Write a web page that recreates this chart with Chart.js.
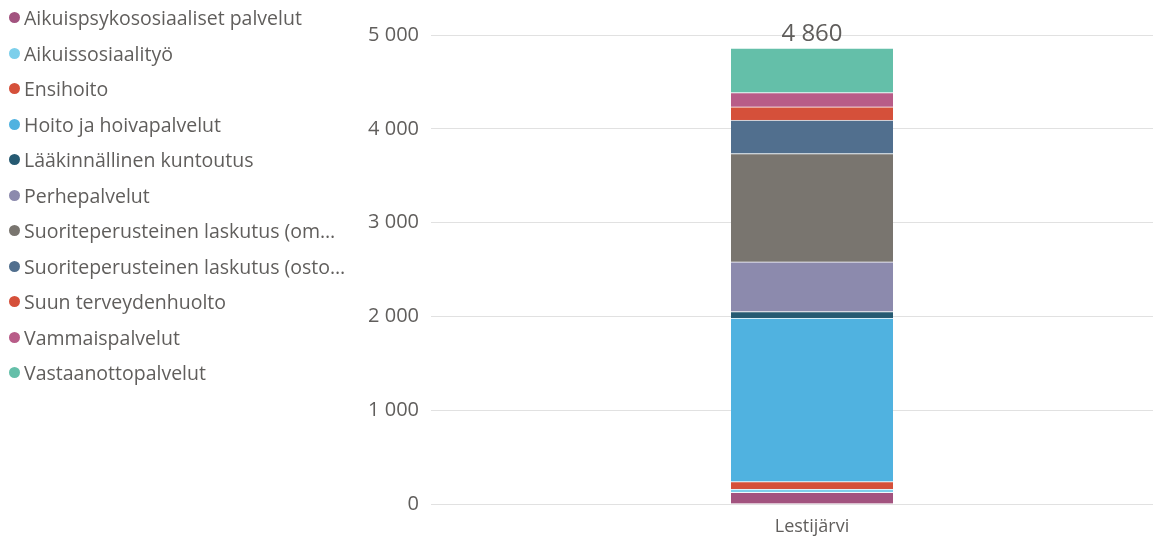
<!DOCTYPE html>
<html lang="fi">
<head>
<meta charset="utf-8">
<script src="https://cdn.jsdelivr.net/npm/chart.js@4"></script>
<style>
  html, body { margin: 0; padding: 0; background: #fff; overflow: hidden; }
  #wrap { position: relative; width: 1193px; height: 537px; }
  #legend { position: absolute; left: 0; top: 0; width: 350px; font-family: "Open Sans", sans-serif; font-size: 19.5px; color: #605E5C; }
  #legend div { height: 35.5px; line-height: 35.5px; display: flex; align-items: center; }
  #legend i { display: inline-block; width: 11px; height: 11px; border-radius: 50%; margin: 0 4px 0 9px; flex: none; }
  #legend span { white-space: nowrap; overflow: hidden; text-overflow: ellipsis; width: 322px; }
</style>
</head>
<body>
<div id="wrap">
  <canvas id="chart" width="1193" height="537"></canvas>
  <div id="legend"></div>
</div>
<script>
"use strict";

// Kategoria ja sarjat
const categories = ["Lestijärvi"];
const seriesNames = [
  "Aikuispsykososiaaliset palvelut",
  "Aikuissosiaalityö",
  "Ensihoito",
  "Hoito ja hoivapalvelut",
  "Lääkinnällinen kuntoutus",
  "Perhepalvelut",
  "Suoriteperusteinen laskutus (omat palvelut)",
  "Suoriteperusteinen laskutus (ostopalvelut)",
  "Suun terveydenhuolto",
  "Vammaispalvelut",
  "Vastaanottopalvelut"
];
const seriesValues = [125, 35, 80, 1742, 70, 530, 1155, 355, 142, 153, 473];
const seriesColors = ["#A2537F", "#7CCFEB", "#D5503A", "#50B2E0", "#265A72", "#8C8AAD", "#79756F", "#516F8E", "#D5503A", "#B85C88", "#64BFA9"];
const yTicks = [0, 1000, 2000, 3000, 4000, 5000];

const textColor = "#605E5C";
const fontFamily = "'Open Sans', sans-serif";

// Legenda HTML:nä
const legend = document.getElementById("legend");
seriesNames.forEach((name, i) => {
  const row = document.createElement("div");
  row.innerHTML = '<i style="background:' + seriesColors[i] + '"></i><span>' + name + '</span>';
  legend.appendChild(row);
});

// Summa pinon päälle
const totalLabel = {
  id: "totalLabel",
  afterDatasetsDraw(chart) {
    const ctx = chart.ctx;
    const x = chart.scales.x;
    const y = chart.scales.y;
    categories.forEach((c, i) => {
      const total = seriesValues.reduce((a, b) => a + b, 0);
      ctx.save();
      ctx.font = "24px " + fontFamily;
      ctx.fillStyle = textColor;
      ctx.textAlign = "center";
      ctx.textBaseline = "bottom";
      ctx.fillText(total.toLocaleString("fi-FI"), x.getPixelForValue(i), y.getPixelForValue(total) - 2);
      ctx.restore();
    });
  }
};

new Chart(document.getElementById("chart"), {
  type: "bar",
  data: {
    labels: categories,
    datasets: seriesNames.map((name, i) => ({
      label: name,
      data: [seriesValues[i]],
      backgroundColor: seriesColors[i],
      borderColor: "rgba(255,255,255,0.25)",
      borderWidth: { top: 1 },
      barThickness: 162
    }))
  },
  options: {
    responsive: false,
    animation: false,
    layout: { padding: { top: 35, right: 0, left: 0, bottom: 0 } },
    plugins: { legend: { display: false }, tooltip: { enabled: false } },
    scales: {
      x: {
        stacked: true,
        grid: { display: false },
        border: { display: false },
        ticks: { color: textColor, font: { family: fontFamily, size: 18 }, padding: 4 },
        afterFit(scale) { scale.height = 33; }
      },
      y: {
        stacked: true,
        min: 0,
        max: 5000,
        afterBuildTicks(scale) { scale.ticks = yTicks.map(v => ({ value: v })); },
        grid: { color: "#E1E1E1", lineWidth: 1, drawTicks: false },
        border: { display: false },
        ticks: {
          color: textColor,
          font: { family: fontFamily, size: 20 },
          padding: 12,
          callback: v => v.toLocaleString("fi-FI")
        },
        afterFit(scale) { scale.width = 431; }
      }
    }
  },
  plugins: [totalLabel]
});
</script>
</body>
</html>
